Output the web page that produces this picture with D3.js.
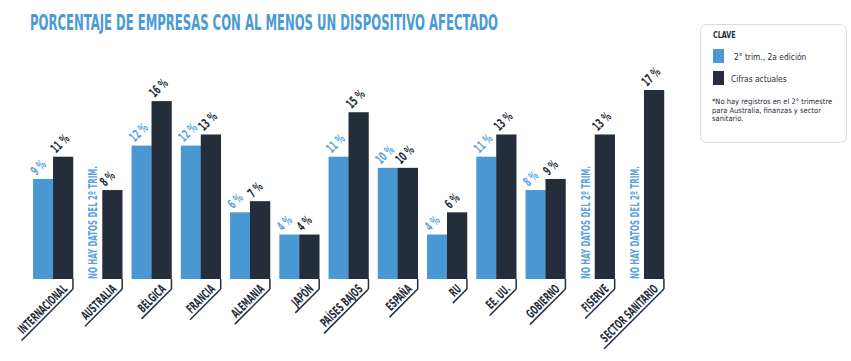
<!DOCTYPE html>
<html>
<head>
    <meta charset="utf-8">
    <title>Porcentaje de empresas</title>
    <script type="text/javascript" src="https://cdn.jsdelivr.net/npm/d3@7"></script>
    <style type="text/css">
        body { margin: 0; background: #fff; }
        text { font-family: "Liberation Sans Narrow", "DejaVu Sans Condensed", sans-serif; }
        .cond { font-weight: bold; }
    </style>
</head>
<body>
<script type="text/javascript">
    var categories = ["INTERNACIONAL", "AUSTRALIA", "BÉLGICA", "FRANCIA", "ALEMANIA", "JAPÓN",
        "PAÍSES BAJOS", "ESPAÑA", "RU", "EE. UU.", "GOBIERNO", "FISERVE", "SECTOR SANITARIO"];
    var q2Values = [9, null, 12, 12, 6, 4, 11, 10, 4, 11, 8, null, null];
    var currentValues = [11, 8, 16, 13, 7, 4, 15, 10, 6, 13, 9, 13, 17];
    var seriesKeys = ["q2", "now"];
    var legendLabels = ["2° trim., 2a edición", "Cifras actuales"];
    var noteLines = ["*No hay registros en el 2° trimestre", "para Australia, finanzas y sector", "sanitario."];

    var w = 851, h = 361,
        blue = "#4a98d3", dark = "#262d3a", blueText = "#5ba2dc",
        squeeze = 0.66; // condensed look, the narrow font is not there

    var svg = d3.select("body").append("svg")
        .attr("width", w)
        .attr("height", h);

    svg.append("text")
        .attr("class", "cond")
        .attr("x", 30).attr("y", 30)
        .attr("font-size", 22)
        .attr("fill", "#4a9ad6")
        .attr("textLength", 468)
        .attr("lengthAdjust", "spacingAndGlyphs")
        .text("PORCENTAJE DE EMPRESAS CON AL MENOS UN DISPOSITIVO AFECTADO");

    var x0 = d3.scaleBand().domain(categories)
        .range([28.4, 668.6]).paddingInner(0.19).paddingOuter(0.095);
    var x1 = d3.scaleBand().domain(seriesKeys).range([0, x0.bandwidth()]);
    var y = d3.scaleLinear().domain([0, 17]).range([279, 90]);

    var rows = categories.map(function (c, i) {
        return {cat: c, vals: [
            {key: "q2", v: q2Values[i]},
            {key: "now", v: currentValues[i]}
        ]};
    });

    var g = svg.selectAll("g.grp").data(rows).enter().append("g")
        .attr("class", "grp")
        .attr("transform", function (d) { return "translate(" + x0(d.cat) + ",0)"; });

    // bars
    g.selectAll("rect").data(function (d) { return d.vals.filter(function (e) { return e.v != null; }); })
        .enter().append("rect")
        .attr("x", function (e) { return x1(e.key); })
        .attr("y", function (e) { return y(e.v); })
        .attr("width", x1.bandwidth() + 0.3)
        .attr("height", function (e) { return y(0) - y(e.v); })
        .attr("fill", function (e) { return e.key === "q2" ? blue : dark; });

    // value labels
    g.selectAll("text.val").data(function (d) { return d.vals.filter(function (e) { return e.v != null; }); })
        .enter().append("text")
        .attr("class", "val cond")
        .attr("font-size", 13)
        .attr("fill", function (e) { return e.key === "q2" ? blueText : dark; })
        .attr("transform", function (e) {
            return "translate(" + (x1(e.key) + 3) + "," + (y(e.v) - 3) + ") rotate(-45) scale(" + (squeeze - 0.04) + ",1)";
        })
        .text(function (e) { return e.v + " %"; });

    // missing data labels
    g.filter(function (d) { return d.vals[0].v == null; })
        .append("text")
        .attr("class", "cond")
        .attr("font-size", 13)
        .attr("fill", blueText)
        .attr("textLength", 113)
        .attr("lengthAdjust", "spacingAndGlyphs")
        .attr("transform", "translate(" + (x1("q2") + x1.bandwidth() / 2 + 5) + "," + y(0) + ") rotate(-90)")
        .text("NO HAY DATOS DEL 2º TRIM.");

    // category labels with slanted ticks
    g.each(function (d) {
        var sel = d3.select(this),
            tx = x0.bandwidth();
        sel.append("line")
            .attr("x1", tx).attr("x2", tx)
            .attr("y1", y(0)).attr("y2", y(0) + 10)
            .attr("stroke", dark).attr("stroke-width", 1.5);
        var lab = sel.append("g").attr("transform", "translate(" + tx + "," + (y(0) + 10) + ") rotate(-45)");
        var t = lab.append("text")
            .attr("class", "cond")
            .attr("font-size", 12.5)
            .attr("fill", dark)
            .attr("text-anchor", "end")
            .attr("transform", "translate(-4,-3) scale(" + (squeeze - 0.04) + ",1)")
            .text(d.cat);
        var len = t.node().getComputedTextLength() * (squeeze - 0.04);
        lab.append("line")
            .attr("x1", 0).attr("x2", -(len + 9))
            .attr("y1", 0).attr("y2", 0)
            .attr("stroke", dark).attr("stroke-width", 1.5);
    });

    // legend
    var lg = svg.append("g").attr("transform", "translate(700,24)");
    lg.append("rect")
        .attr("x", 0.5).attr("y", 0.5)
        .attr("width", 146).attr("height", 118)
        .attr("rx", 6)
        .attr("fill", "#fff")
        .attr("stroke", "#dcdcdc");
    lg.append("text")
        .attr("class", "cond")
        .attr("transform", "translate(13,14) scale(0.8,1)")
        .attr("font-size", 9)
        .attr("fill", dark)
        .text("CLAVE");
    legendLabels.forEach(function (l, i) {
        lg.append("rect")
            .attr("x", 13).attr("y", 25 + i * 22)
            .attr("width", 11).attr("height", 14)
            .attr("fill", i === 0 ? blue : dark);
        lg.append("text")
            .attr("transform", "translate(" + (i === 0 ? 34 : 31) + "," + (36 + i * 22) + ") scale(0.88,1)")
            .attr("font-size", 9.5)
            .attr("fill", dark)
            .text(l);
    });
    noteLines.forEach(function (l, i) {
        lg.append("text")
            .attr("x", 12).attr("y", 80 + i * 8.5)
            .attr("font-size", 7.5)
            .attr("fill", dark)
            .text(l);
    });
</script>
</body>
</html>
